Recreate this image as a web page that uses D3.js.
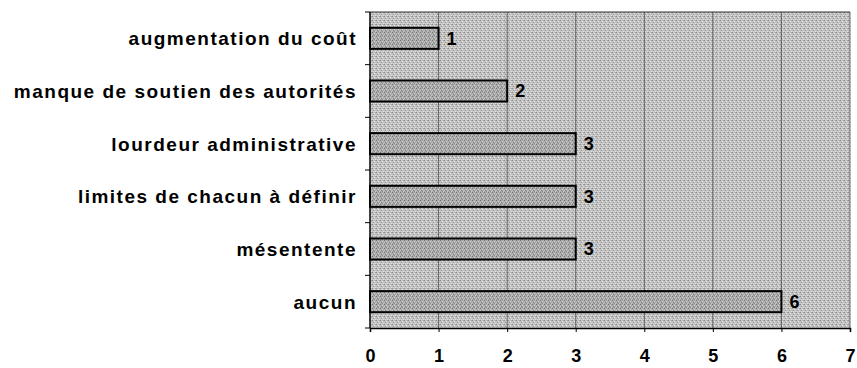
<!DOCTYPE html>
<html><head><meta charset="utf-8">
<script src="https://cdn.jsdelivr.net/npm/d3@7/dist/d3.min.js"></script>
<style>body{margin:0;background:#fff}svg{display:block}text{font-family:"Liberation Sans",Arial,sans-serif;font-weight:bold;fill:#000}</style>
</head><body><svg id="chart" width="857" height="368"></svg>
<script>
const categories = ["augmentation du coût","manque de soutien des autorités","lourdeur administrative","limites de chacun à définir","mésentente","aucun"];
const values = [1,2,3,3,3,6];
const xTicks = [0,1,2,3,4,5,6,7];

const svg = d3.select("#chart");
const m = {left:370, right:850, top:12, bottom:328};

// halftone-like fills for the plot area and bars
const defs = svg.append("defs");
function dither(id, base, cells){
  const p = defs.append("pattern").attr("id",id).attr("width",4).attr("height",4).attr("patternUnits","userSpaceOnUse");
  p.append("rect").attr("width",4).attr("height",4).attr("fill",base);
  cells.forEach(([cx,cy,c])=>p.append("rect").attr("x",cx).attr("y",cy).attr("width",1).attr("height",1).attr("fill",c));
}
dither("bg","#c2c2c2",[[0,0,"#8e8e8e"],[2,1,"#e8e8e8"],[1,2,"#969696"],[3,3,"#e2e2e2"],[3,0,"#a4a4a4"],[1,3,"#dadada"]]);
dither("bar","#aaaaaa",[[0,0,"#777777"],[2,1,"#d2d2d2"],[1,2,"#808080"],[3,3,"#cccccc"],[2,3,"#888888"],[0,2,"#c4c4c4"]]);

const x = d3.scaleLinear().domain([0,7]).range([m.left,m.right]);
const y = d3.scaleBand().domain(categories).range([m.top,m.bottom]).paddingInner(0.6).paddingOuter(0.3);

svg.append("rect").attr("x",m.left).attr("y",m.top).attr("width",m.right-m.left).attr("height",m.bottom-m.top).attr("fill","url(#bg)");

// vertical gridlines
svg.append("g").selectAll("line").data(xTicks.slice(1)).join("line")
  .attr("x1",d=>x(d)).attr("x2",d=>x(d)).attr("y1",m.top).attr("y2",m.bottom)
  .attr("stroke","#4a4a4a").attr("stroke-width",0.8);
svg.append("line").attr("x1",m.left).attr("x2",m.right).attr("y1",m.top).attr("y2",m.top).attr("stroke","#333").attr("stroke-width",1);

// bars
svg.append("g").selectAll("rect").data(values).join("rect")
  .attr("x",x(0)).attr("y",(d,i)=>y(categories[i]))
  .attr("width",d=>x(d)-x(0)).attr("height",y.bandwidth())
  .attr("fill","url(#bar)").attr("stroke","#000").attr("stroke-width",2);

// value labels
svg.append("g").selectAll("text").data(values).join("text")
  .attr("x",d=>x(d)+8).attr("y",(d,i)=>y(categories[i])+y.bandwidth()/2)
  .attr("dy","0.36em").attr("font-size",18).text(d=>d);

// axes
const xAxis = svg.append("g").attr("transform",`translate(0,${m.bottom})`)
  .call(d3.axisBottom(x).tickValues(xTicks).tickSize(4).tickPadding(17).tickFormat(d3.format("d")));
xAxis.selectAll("text").attr("font-size",18).style("font-family","Liberation Sans, Arial, sans-serif").style("font-weight","bold");
xAxis.select(".domain").attr("stroke","#000").attr("stroke-width",1.5);

const yAx = d3.scalePoint().domain(d3.range(categories.length+1)).range([m.top,m.bottom]);
svg.append("g").selectAll("line").data(yAx.domain()).join("line")
  .attr("x1",m.left-5).attr("x2",m.left).attr("y1",d=>yAx(d)).attr("y2",d=>yAx(d)).attr("stroke","#000");
svg.append("line").attr("x1",m.left).attr("x2",m.left).attr("y1",m.top).attr("y2",m.bottom).attr("stroke","#000").attr("stroke-width",1.5);

svg.append("g").selectAll("text").data(categories).join("text")
  .attr("x",357).attr("y",d=>y(d)+y.bandwidth()/2).attr("dy","0.36em")
  .attr("text-anchor","end").attr("font-size",19).attr("letter-spacing",1.5).text(d=>d);
</script></body></html>
